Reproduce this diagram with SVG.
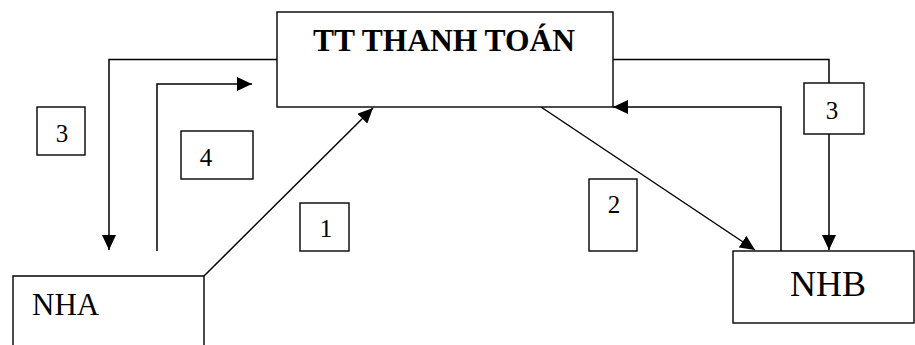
<svg xmlns="http://www.w3.org/2000/svg" width="915" height="345" viewBox="0 0 915 345">
<style>
.box{fill:#fff;stroke:#000;stroke-width:1.4}
.ln{fill:none;stroke:#000;stroke-width:1.5}
.t{font-family:"Liberation Serif","Times New Roman",serif;fill:#000}
</style>
<defs>
<marker id="ah" viewBox="0 0 15 14" refX="15" refY="7" markerWidth="15" markerHeight="14" markerUnits="userSpaceOnUse" orient="auto">
<path d="M0,0 L15,7 L0,14 Z" fill="#000"/>
</marker>
</defs>
<rect width="915" height="345" fill="#fff"/>
<g id="connectors">
<path class="ln" d="M277,59.5 H109 V250" marker-end="url(#ah)"/>
<path class="ln" d="M157,251 V84 H252" marker-end="url(#ah)"/>
<path class="ln" d="M204,276 L373,108" marker-end="url(#ah)"/>
<path class="ln" d="M541,107 L755,250" marker-end="url(#ah)"/>
<path class="ln" d="M781,251 V107 H613" marker-end="url(#ah)"/>
<path class="ln" d="M613,59.5 H829 V83"/>
<path class="ln" d="M829,134 V250" marker-end="url(#ah)"/>
</g>
<g id="tt">
<rect class="box" x="277" y="12" width="336" height="95"/>
<text class="t" x="444" y="51" font-size="31.5" font-weight="bold" text-anchor="middle">TT THANH TOÁN</text>
</g>
<g id="nha">
<path class="box" d="M13,346 V276 H204 V346"/>
<text class="t" x="32" y="315" font-size="31">NHA</text>
</g>
<g id="nhb">
<rect class="box" x="733" y="251" width="181" height="72"/>
<text class="t" x="828" y="296" font-size="36" text-anchor="middle">NHB</text>
</g>
<g id="label3left">
<rect class="box" x="37" y="107" width="48" height="48"/>
<text class="t" x="62" y="142" font-size="25" text-anchor="middle">3</text>
</g>
<g id="label4">
<rect class="box" x="181" y="131" width="72" height="48"/>
<text class="t" x="206" y="166" font-size="25" text-anchor="middle">4</text>
</g>
<g id="label1">
<rect class="box" x="300" y="203" width="49" height="48"/>
<text class="t" x="326" y="237" font-size="25" text-anchor="middle">1</text>
</g>
<g id="label2">
<rect class="box" x="589" y="179" width="48" height="72"/>
<text class="t" x="614" y="213" font-size="25" text-anchor="middle">2</text>
</g>
<g id="label3right">
<rect class="box" x="804" y="83" width="60" height="51"/>
<text class="t" x="832" y="119" font-size="25" text-anchor="middle">3</text>
</g>
</svg>
